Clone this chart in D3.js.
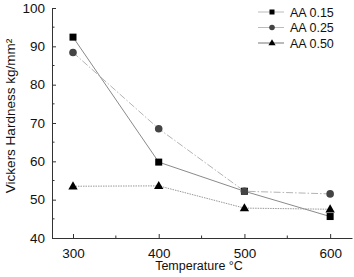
<!DOCTYPE html>
<html>
<head>
<meta charset="utf-8">
<script src="https://cdn.jsdelivr.net/npm/d3@7"></script>
<style>
  body { margin: 0; background: #fff; }
  text { font-family: "Liberation Sans", Arial, sans-serif; fill: #111; }
</style>
</head>
<body>
<div id="chart"></div>
<script>
let temps = [300, 400, 500, 600];
let aa015 = [92.4, 59.8, 52.2, 45.6];
let aa025 = [88.4, 68.5, 52.2, 51.5];
let aa050 = [53.5, 53.6, 47.8, 47.5];
let seriesNames = ["AA 0.15", "AA 0.25", "AA 0.50"];
let yTicks = [40, 50, 60, 70, 80, 90, 100];
let xTicks = [300, 400, 500, 600];

let width = 354, height = 277;
let margin = { top: 8, right: 2, bottom: 39, left: 52 };

let svg = d3.select("#chart").append("svg")
    .attr("width", width)
    .attr("height", height);

let x = d3.scaleLinear().domain([275.5, 625.5]).range([margin.left, width - margin.right]);
let y = d3.scaleLinear().domain([40, 100]).range([height - margin.bottom, margin.top]);

// axes
let xAxis = d3.axisBottom(x).tickValues(xTicks).tickSize(-4).tickPadding(10).tickSizeOuter(0);
let yAxis = d3.axisLeft(y).tickValues(yTicks).tickSize(4).tickPadding(3).tickSizeOuter(0);

let gx = svg.append("g").attr("transform", "translate(0," + (height - margin.bottom) + ")").call(xAxis);
let gy = svg.append("g").attr("transform", "translate(" + margin.left + ",0)").call(yAxis);

// minor ticks
gx.selectAll(".minor").data([350, 450, 550]).enter().append("line")
    .attr("x1", d => x(d)).attr("x2", d => x(d))
    .attr("y1", 0).attr("y2", -2.5).attr("stroke", "#333");
gy.selectAll(".minor").data([45, 55, 65, 75, 85, 95]).enter().append("line")
    .attr("y1", d => y(d)).attr("y2", d => y(d))
    .attr("x1", 0).attr("x2", 2.5).attr("stroke", "#333");

[gx, gy].forEach(g => {
    g.select(".domain").attr("stroke", "#333").attr("stroke-width", 1);
    g.selectAll(".tick line").attr("stroke", "#333");
    g.selectAll(".tick text").style("font-size", "13.5px").attr("fill", "#111");
});
gy.selectAll(".tick line").attr("x2", 4);

// axis labels
svg.append("text")
    .attr("x", 199).attr("y", 270)
    .attr("text-anchor", "middle")
    .style("font-size", "12.5px")
    .text("Temperature \u00b0C");

svg.append("text")
    .attr("transform", "translate(15," + 116 + ") rotate(-90)")
    .attr("text-anchor", "middle")
    .style("font-size", "13.5px")
    .text("Vickers Hardness kg/mm\u00b2");

let series = [
    { name: seriesNames[0], vals: aa015, stroke: "#8a8a8a", dash: null, marker: "square", fill: "#000" },
    { name: seriesNames[1], vals: aa025, stroke: "#b4b4b4", dash: "7,2,1.5,2", marker: "circle", fill: "#444" },
    { name: seriesNames[2], vals: aa050, stroke: "#999", dash: "1.5,1", marker: "triangle", fill: "#000" }
];

let line = d3.line().x(d => x(d[0])).y(d => y(d[1]));

function drawMarker(g, type, cx, cy, fill) {
    if (type === "square") {
        g.append("rect").attr("x", cx - 3.5).attr("y", cy - 3.5).attr("width", 7).attr("height", 7).attr("fill", fill);
    } else if (type === "circle") {
        g.append("circle").attr("cx", cx).attr("cy", cy).attr("r", 3.8).attr("fill", fill);
    } else {
        g.append("path").attr("d", d3.symbol().type(d3.symbolTriangle).size(38)()).attr("transform", "translate(" + cx + "," + (cy + 0.5) + ")").attr("fill", fill);
    }
}

series.forEach(s => {
    let pts = temps.map((t, i) => [t, s.vals[i]]);
    svg.append("path")
        .datum(pts)
        .attr("d", line)
        .attr("fill", "none")
        .attr("stroke", s.stroke)
        .attr("stroke-width", 1)
        .attr("stroke-dasharray", s.dash);
});
series.forEach(s => {
    let g = svg.append("g");
    temps.forEach((t, i) => drawMarker(g, s.marker, x(t), y(s.vals[i]), s.fill));
});

// legend
let legend = svg.append("g");
series.forEach((s, i) => {
    let ly = 12 + i * 15.5;
    legend.append("line")
        .attr("x1", 258).attr("x2", 284).attr("y1", ly).attr("y2", ly)
        .attr("stroke", i === 2 ? "#777" : "#bbb").attr("stroke-width", 1);
    let g = legend.append("g");
    if (s.marker === "square") {
        g.append("rect").attr("x", 269.5).attr("y", ly - 2.5).attr("width", 5).attr("height", 5).attr("fill", s.fill);
    } else if (s.marker === "circle") {
        g.append("circle").attr("cx", 272).attr("cy", ly).attr("r", 2.8).attr("fill", s.fill);
    } else {
        g.append("path").attr("d", d3.symbol().type(d3.symbolTriangle).size(22)()).attr("transform", "translate(272," + (ly + 0.3) + ")").attr("fill", s.fill);
    }
    legend.append("text")
        .attr("x", 290).attr("y", ly + 4.5)
        .style("font-size", "12.5px")
        .text(s.name);
});
</script>
</body>
</html>
